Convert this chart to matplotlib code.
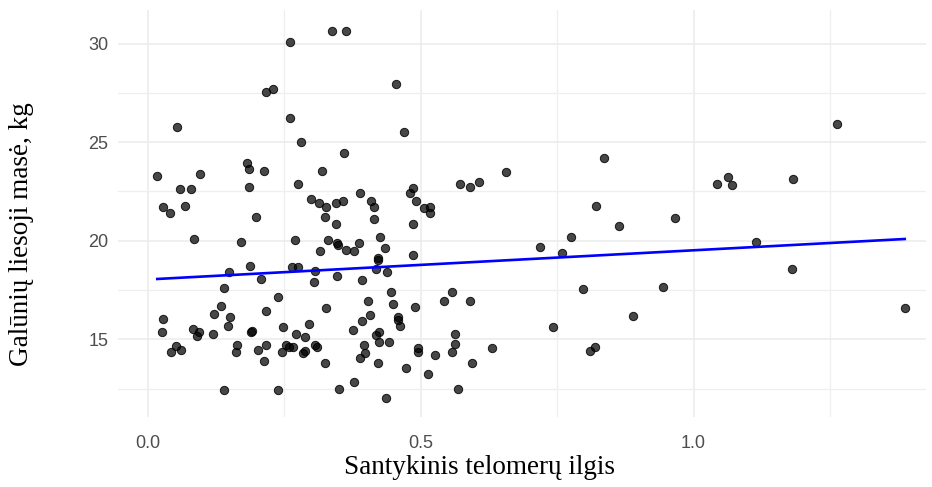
import numpy as np
import matplotlib
matplotlib.use("Agg")
import matplotlib.pyplot as plt
from matplotlib.ticker import MultipleLocator

# relative telomere length vs. appendicular lean mass
telomere = [
    0.338, 0.261, 0.216, 0.230, 0.261, 0.054, 0.281, 0.017, 0.096, 0.181,
    0.185, 0.213, 0.059, 0.079, 0.185, 0.318, 0.275, 0.298, 0.313, 0.327,
    0.344, 0.028, 0.068, 0.040, 0.198, 0.084, 0.170, 0.269, 0.324, 0.345,
    0.329, 0.346, 0.315, 0.187, 0.148, 0.208, 0.264, 0.275, 0.307, 0.304,
    0.346, 0.139, 0.239, 0.133, 0.216, 0.121, 0.150, 0.028, 0.147, 0.326,
    0.295, 0.026, 0.082, 0.093, 0.090, 0.120, 0.188, 0.191, 0.247, 0.271,
    0.288, 0.051, 0.042, 0.060, 0.164, 0.162, 0.202, 0.216, 0.213, 0.253,
    0.246, 0.258, 0.266, 0.285, 0.288, 0.307, 0.309, 0.324, 0.139, 0.239,
    0.350, 0.363, 0.455, 0.469, 0.360, 0.571, 0.591, 0.606, 0.657, 0.389,
    0.358, 0.409, 0.415, 0.486, 0.480, 0.491, 0.506, 0.517, 0.517, 0.415,
    0.486, 0.349, 0.363, 0.378, 0.387, 0.426, 0.435, 0.421, 0.421, 0.486,
    0.418, 0.438, 0.392, 0.446, 0.404, 0.449, 0.489, 0.543, 0.558, 0.591,
    0.719, 0.406, 0.392, 0.458, 0.458, 0.461, 0.375, 0.424, 0.417, 0.424,
    0.441, 0.395, 0.398, 0.389, 0.421, 0.494, 0.494, 0.526, 0.563, 0.563,
    0.557, 0.631, 0.594, 0.472, 0.514, 0.378, 0.568, 0.436, 1.262, 0.836,
    1.043, 1.063, 1.071, 1.183, 0.822, 0.864, 0.966, 0.776, 0.759, 1.114,
    1.180, 0.798, 0.944, 0.889, 0.742, 1.387, 0.819, 0.810,
]
lean_mass = [
    30.65, 30.08, 27.54, 27.71, 26.24, 25.75, 25.01, 23.30, 23.38, 23.94,
    23.62, 23.53, 22.64, 22.64, 22.72, 23.53, 22.89, 22.13, 21.91, 21.69,
    21.91, 21.69, 21.77, 21.42, 21.19, 20.10, 19.93, 20.02, 21.19, 20.85,
    20.04, 19.86, 19.46, 18.72, 18.41, 18.07, 18.65, 18.65, 18.48, 17.91,
    18.23, 17.59, 17.16, 16.67, 16.44, 16.27, 16.12, 16.03, 15.69, 16.60,
    15.78, 15.35, 15.54, 15.37, 15.18, 15.27, 15.39, 15.44, 15.61, 15.28,
    15.13, 14.66, 14.36, 14.46, 14.71, 14.37, 14.46, 14.71, 13.89, 14.71,
    14.37, 14.62, 14.62, 14.32, 14.42, 14.71, 14.59, 13.81, 12.41, 12.41,
    12.49, 30.65, 27.95, 25.50, 24.43, 22.89, 22.72, 22.98, 23.47, 22.40,
    21.99, 21.99, 21.73, 22.65, 22.40, 21.99, 21.67, 21.69, 21.42, 21.09,
    20.87, 19.78, 19.54, 19.46, 19.87, 20.18, 19.63, 19.14, 19.02, 19.28,
    18.55, 18.40, 18.00, 17.40, 16.93, 16.81, 16.65, 16.93, 17.40, 16.93,
    19.70, 16.25, 15.93, 16.11, 15.98, 15.68, 15.46, 15.35, 15.21, 14.85,
    14.86, 14.71, 14.31, 14.07, 13.81, 14.54, 14.37, 14.22, 15.28, 14.77,
    14.37, 14.54, 13.81, 13.56, 13.26, 12.83, 12.49, 12.01, 25.92, 24.19,
    22.89, 23.22, 22.81, 23.13, 21.74, 20.76, 21.17, 20.19, 19.36, 19.95,
    18.55, 17.57, 17.65, 16.18, 15.61, 16.59, 14.62, 14.39,
]

x_ticks = [0.0, 0.5, 1.0]
y_ticks = [15, 20, 25, 30]

x = np.array(telomere)
y = np.array(lean_mass)
slope, intercept = np.polyfit(x, y, 1)
xf = np.linspace(x.min(), x.max(), 100)

fig = plt.figure(figsize=(9.32, 4.87), dpi=100)
ax = fig.add_axes([118 / 932, 70 / 487, 808 / 932, 407 / 487])

ax.scatter(x, y, s=36, facecolor=(0, 0, 0, 0.72), edgecolor=(0, 0, 0, 0.85),
           linewidths=0.7, zorder=3)
ax.plot(xf, intercept + slope * xf, color="#0000FF", lw=1.9, zorder=4)

ax.set_xlim(-0.055, 1.426)
ax.set_ylim(11.06, 31.70)
ax.set_xticks(x_ticks)
ax.set_xticklabels([f"{v:.1f}" for v in x_ticks])
ax.set_yticks(y_ticks)
ax.xaxis.set_minor_locator(MultipleLocator(0.25))
ax.yaxis.set_minor_locator(MultipleLocator(2.5))

ax.grid(True, which="major", color="#EBEBEB", lw=1.1)
ax.grid(True, which="minor", color="#EFEFEF", lw=0.9)
ax.set_axisbelow(True)
for sp in ax.spines.values():
    sp.set_visible(False)
ax.tick_params(which="both", length=0)
ax.tick_params(axis="x", pad=13, labelsize=13, labelcolor="#4D4D4D")
ax.tick_params(axis="y", pad=7, labelsize=13, labelcolor="#4D4D4D")
for lab in ax.get_xticklabels() + ax.get_yticklabels():
    lab.set_family("Liberation Sans")

ax.set_xlabel("Santykinis telomerų ilgis", family="Liberation Serif", fontsize=19.5)
ax.set_ylabel("Galūnių liesoji masė, kg", family="Liberation Serif", fontsize=19.5)
ax.xaxis.set_label_coords(0.448, -0.125)
ax.yaxis.set_label_coords(-0.119, 0.45)
ax.xaxis.label.set_va("center")
ax.yaxis.label.set_va("center")

fig.savefig("out.png", dpi=100)
